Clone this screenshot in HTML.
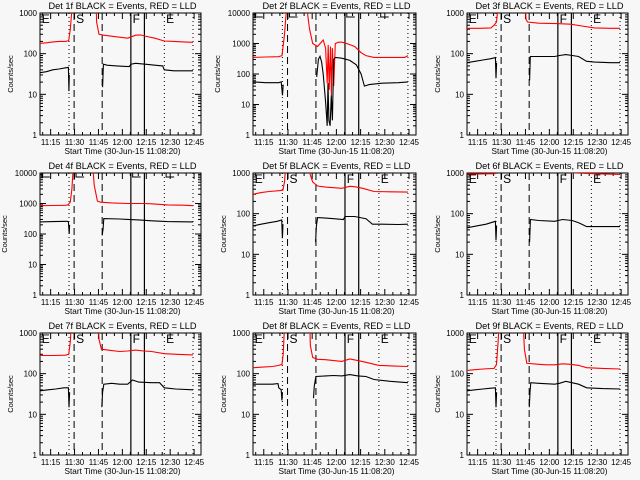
<!DOCTYPE html>
<html><head><meta charset="utf-8"><style>
html,body{margin:0;padding:0;background:#f7f7f7;}
svg{display:block;font-family:"Liberation Sans",sans-serif;}
</style></head><body>
<svg id="chart" width="640" height="480" viewBox="0 0 640 480"></svg>
<script>
// time in minutes since 11:08:20; null breaks line
const tickLabels = ["11:15","11:30","11:45","12:00","12:15","12:30","12:45"];
const tickTimes = [6.67,21.67,36.67,51.67,66.67,81.67,96.67];
const markerTimes = [18.2,21.4,39.0,57.0,65.5,78.0,96.0];
const markerStyles = ["dot","dash","dash","solid","solid","dot","dot"];
const letterLabels = ["E","S","F","E"];
const letterTimes = [0.5,22,57.5,78.5];
const panelTitles = ["Det 1f","Det 2f","Det 3f","Det 4f","Det 5f","Det 6f","Det 7f","Det 8f","Det 9f"];
const panelMaxDecade = [3,4,3,4,3,3,3,3,3];

const p1BlackT=[0,4,8,12,16,17.8,18.1,18.4,null,39.3,39.8,42,48,56,57,60,66,72,77,78,84,90,96];
const p1BlackV=[34,36,40,42,45,46,12,30,null,15,55,52,50,48,55,58,55,52,50,40,38,38,38];
const p1RedT=[0,4,8,12,16,18,19,20,21,35,35.5,37,40,48,55,60,63,66,72,78,84,90,96];
const p1RedV=[180,185,195,200,200,210,400,1200,5000,5000,600,300,285,260,240,285,290,270,240,205,200,195,190];

const p2BlackT=[0,8,16,17.5,18.3,18.7,null,39.5,40.5,41.5,42.5,43.5,45,46,46.5,47,47.8,48.5,49.2,50,51,55,60,64,67,69,72,80,90,96];
const p2BlackV=[55,52,52,55,20,45,null,80,300,380,250,100,12,2,50,3,2,20,3,300,350,330,280,200,100,40,45,50,52,55];
const p2RedT=[0,8,16,18,19.5,21,33,35,37,40,43.5,45,46,46.6,47.2,48,48.6,49.2,50,51,53,55,58,63,67,70,75,85,94,96];
const p2RedV=[350,360,370,400,2000,20000,20000,3000,1000,800,1300,700,50,900,30,800,20,700,40,1000,1100,1100,1000,800,500,400,350,350,350,400];

const p3BlackT=[0,5,10,15,17.8,18.2,18.6,null,39.3,39.7,45,55,58,62,66,70,75,80,90,96];
const p3BlackV=[60,65,70,75,80,25,60,null,22,85,85,85,90,95,90,85,65,62,60,60];
const p3RedT=[0,8,15,17,18.5,19.5,21,36,37,38,45,56,65,72,80,90,96];
const p3RedV=[420,420,430,500,600,1500,5000,5000,700,600,560,550,530,480,430,420,420];

const p4BlackT=[0,8,17,17.8,18.3,18.6,null,39,39.6,40,50,55,62,70,80,96];
const p4BlackV=[250,255,260,250,100,200,null,90,150,320,310,300,290,270,255,250];
const p4RedT=[0,8,16,17.5,19,20,21,33,34,36,38,45,55,65,70,80,90,96];
const p4RedV=[850,860,870,900,1100,3000,20000,20000,4000,1200,1100,1050,1000,1000,980,900,880,850];

const p5BlackT=[0,5,10,15,17.8,18.2,18.6,null,38.8,39.3,40,45,50,56,57,63,70,74,80,90,96];
const p5BlackV=[50,55,60,65,70,25,55,null,20,50,80,78,75,72,85,85,75,55,55,54,55];
const p5RedT=[0,5,10,17,18.5,19.5,20.5,35,35.5,37,40,45,55,60,63,68,75,85,96];
const p5RedV=[300,330,350,370,380,600,2000,2000,900,600,480,450,420,470,460,420,350,345,340];

const p6BlackT=[0,6,12,17.8,18.2,18.6,null,39.3,39.8,45,55,60,66,70,72,75,85,96];
const p6BlackV=[45,50,55,65,22,50,null,20,72,68,65,72,68,60,55,48,48,48];
const p6RedT=[0,8,17,18,19.5,25,40,50,60,65,75,85,96];
const p6RedV=[950,950,960,980,1100,1150,1100,1080,1050,1020,980,950,920];

const p7BlackT=[0,5,10,15,17.8,18.2,18.6,null,38.8,39.3,40,45,50,55,58,62,70,75,78,85,96];
const p7BlackV=[38,40,42,45,45,15,35,null,15,35,55,58,55,55,70,62,60,60,45,42,40];
const p7RedT=[0,8,16,18,19,20,21,36,37,38.5,45,50,55,60,65,70,78,86,96];
const p7RedV=[280,280,285,300,600,3000,5000,5000,700,400,370,350,360,380,360,350,310,300,290];

const p8BlackT=[0,6,12,15.5,16,17.5,17.9,18.3,null,37.5,38,39,45,50,55,60,65,70,75,85,96];
const p8BlackV=[55,55,55,57,45,40,22,35,null,25,50,85,88,90,88,95,88,85,72,65,60];
const p8RedT=[0,6,12,16,18,18.7,19.5,21,35,35.5,37,40,45,50,55,60,65,70,78,86,96];
const p8RedV=[140,145,150,160,170,300,1500,5000,5000,500,250,225,220,210,200,230,210,190,160,155,150];

const p9BlackT=[0,5,10,15,17.8,18.2,18.6,null,39.1,39.5,40,45,55,58,62,70,75,85,96];
const p9BlackV=[38,40,42,44,45,15,35,null,15,35,60,58,55,58,65,55,45,43,42];
const p9RedT=[0,5,10,17,18.5,19.5,20.5,35,36,37.5,45,50,55,60,65,70,75,85,96];
const p9RedV=[120,125,130,135,170,600,3000,3000,400,180,170,165,165,175,170,160,140,135,130];

const blackTs=[p1BlackT,p2BlackT,p3BlackT,p4BlackT,p5BlackT,p6BlackT,p7BlackT,p8BlackT,p9BlackT];
const blackVs=[p1BlackV,p2BlackV,p3BlackV,p4BlackV,p5BlackV,p6BlackV,p7BlackV,p8BlackV,p9BlackV];
const redTs=[p1RedT,p2RedT,p3RedT,p4RedT,p5RedT,p6RedT,p7RedT,p8RedT,p9RedT];
const redVs=[p1RedV,p2RedV,p3RedV,p4RedV,p5RedV,p6RedV,p7RedV,p8RedV,p9RedV];

const NS="http://www.w3.org/2000/svg";
const svg=document.getElementById('chart');
function mk(tag,attrs,parent){const e=document.createElementNS(NS,tag);for(const k in attrs)e.setAttribute(k,attrs[k]);(parent||svg).appendChild(e);return e;}
const colX=[[40,201],[253,416],[467,628]];
const rowY=[[13,135],[173,295],[333,455]];
const TMAX=101;

for(let p=0;p<9;p++){
  const c=p%3,r=Math.floor(p/3);
  const x0=colX[c][0],x1=colX[c][1],y0=rowY[r][0],y1=rowY[r][1];
  const dmax=panelMaxDecade[p];
  const xs=t=>x0+(x1-x0)*t/TMAX;
  const ys=v=>y1-(y1-y0)*Math.log10(v)/dmax;
  const g=mk('g',{});
  
  
  const cid='clip'+p;
  const cp=mk('clipPath',{id:cid},g);mk('rect',{x:x0,y:y0,width:x1-x0,height:y1-y0},cp);
  const title=mk('text',{x:(x0+x1)/2+2,y:y0-4,'text-anchor':'middle','font-size':'9.2','textLength':'148','lengthAdjust':'spacingAndGlyphs'},g);
  title.textContent=panelTitles[p]+" BLACK = Events, RED = LLD";
  
  
  const box=mk('rect',{x:x0,y:y0,width:x1-x0,height:y1-y0,fill:'none',stroke:'#000','stroke-width':1},g);
  
  
  for(let d=0;d<=dmax;d++){
    const y=ys(Math.pow(10,d));
    mk('line',{x1:x0,x2:x0+6,y1:y,y2:y,stroke:'#000'},g);
    mk('line',{x1:x1,x2:x1-6,y1:y,y2:y,stroke:'#000'},g);
    const lb=mk('text',{x:x0-3,y:y+3,'text-anchor':'end','font-size':'8'},g);
    lb.textContent=String(Math.pow(10,d));
    
    
    if(d<dmax){for(let m=2;m<=9;m++){const ym=ys(m*Math.pow(10,d));
      mk('line',{x1:x0,x2:x0+3,y1:ym,y2:ym,stroke:'#000'},g);
      mk('line',{x1:x1,x2:x1-3,y1:ym,y2:ym,stroke:'#000'},g);}}
  }
  for(let i=0;i<tickTimes.length;i++){
    const x=xs(tickTimes[i]);
    mk('line',{x1:x,x2:x,y1:y1,y2:y1-6,stroke:'#000'},g);
    mk('line',{x1:x,x2:x,y1:y0,y2:y0+6,stroke:'#000'},g);
    const lb=mk('text',{x:x,y:y1+10,'text-anchor':'middle','font-size':'8'},g);
    lb.textContent=tickLabels[i];
    
    
    for(let m=1;m<3;m++){const tm=tickTimes[i]+m*5;if(tm<TMAX){const xm=xs(tm);
      mk('line',{x1:xm,x2:xm,y1:y1,y2:y1-3,stroke:'#000'},g);
      mk('line',{x1:xm,x2:xm,y1:y0,y2:y0+3,stroke:'#000'},g);}}
    if(i==0){const xm=xs(tickTimes[0]-5);mk('line',{x1:xm,x2:xm,y1:y1,y2:y1-3,stroke:'#000'},g);mk('line',{x1:xm,x2:xm,y1:y0,y2:y0+3,stroke:'#000'},g);}
  }
  const xt=mk('text',{x:(x0+x1)/2+2,y:y1+19,'text-anchor':'middle','font-size':'8.5','textLength':'116','lengthAdjust':'spacingAndGlyphs'},g);
  xt.textContent="Start Time (30-Jun-15 11:08:20)";
  
  
  const yt=mk('text',{x:0,y:0,'text-anchor':'middle','font-size':'7.5',transform:`translate(${x0-(dmax==4?33:27)},${(y0+y1)/2}) rotate(-90)`},g);
  yt.textContent="Counts/sec";
  
  
  for(let i=0;i<markerTimes.length;i++){
    const x=xs(markerTimes[i]);
    const st=markerStyles[i];
    const ln=mk('line',{x1:x,x2:x,y1:y0,y2:y1,stroke:'#000','stroke-width':st=='solid'?1.2:1,'stroke-dasharray':st=='dot'?'1,3':(st=='dash'?'7,4':'none')},g);
    
    
  }
  for(let i=0;i<letterLabels.length;i++){
    const x=xs(letterTimes[i]);
    if(dmax==3){
      const tx=mk('text',{x:x+1,y:y0+10,'font-size':'12'},g);
      tx.textContent=letterLabels[i];
      
      
    } else {
      mk('path',{d:`M${x+1},${y0} V${y0+4} H${x+9}`,fill:'none',stroke:'#000'},g);
    }
  }
  function path(ts,vs){let d='',pen=false;
    for(let i=0;i<ts.length;i++){if(ts[i]===null){pen=false;continue;}
      d+=(pen?'L':'M')+xs(ts[i]).toFixed(1)+','+ys(vs[i]).toFixed(1);pen=true;}return d;}
  const red=mk('path',{d:path(redTs[p],redVs[p]),fill:'none',stroke:'#f00','stroke-width':1.1,'clip-path':`url(#${cid})`},g);
  
  
  const blk=mk('path',{d:path(blackTs[p],blackVs[p]),fill:'none',stroke:'#000','stroke-width':1.1,'clip-path':`url(#${cid})`},g);
  
  
}
</script>
</body></html>
